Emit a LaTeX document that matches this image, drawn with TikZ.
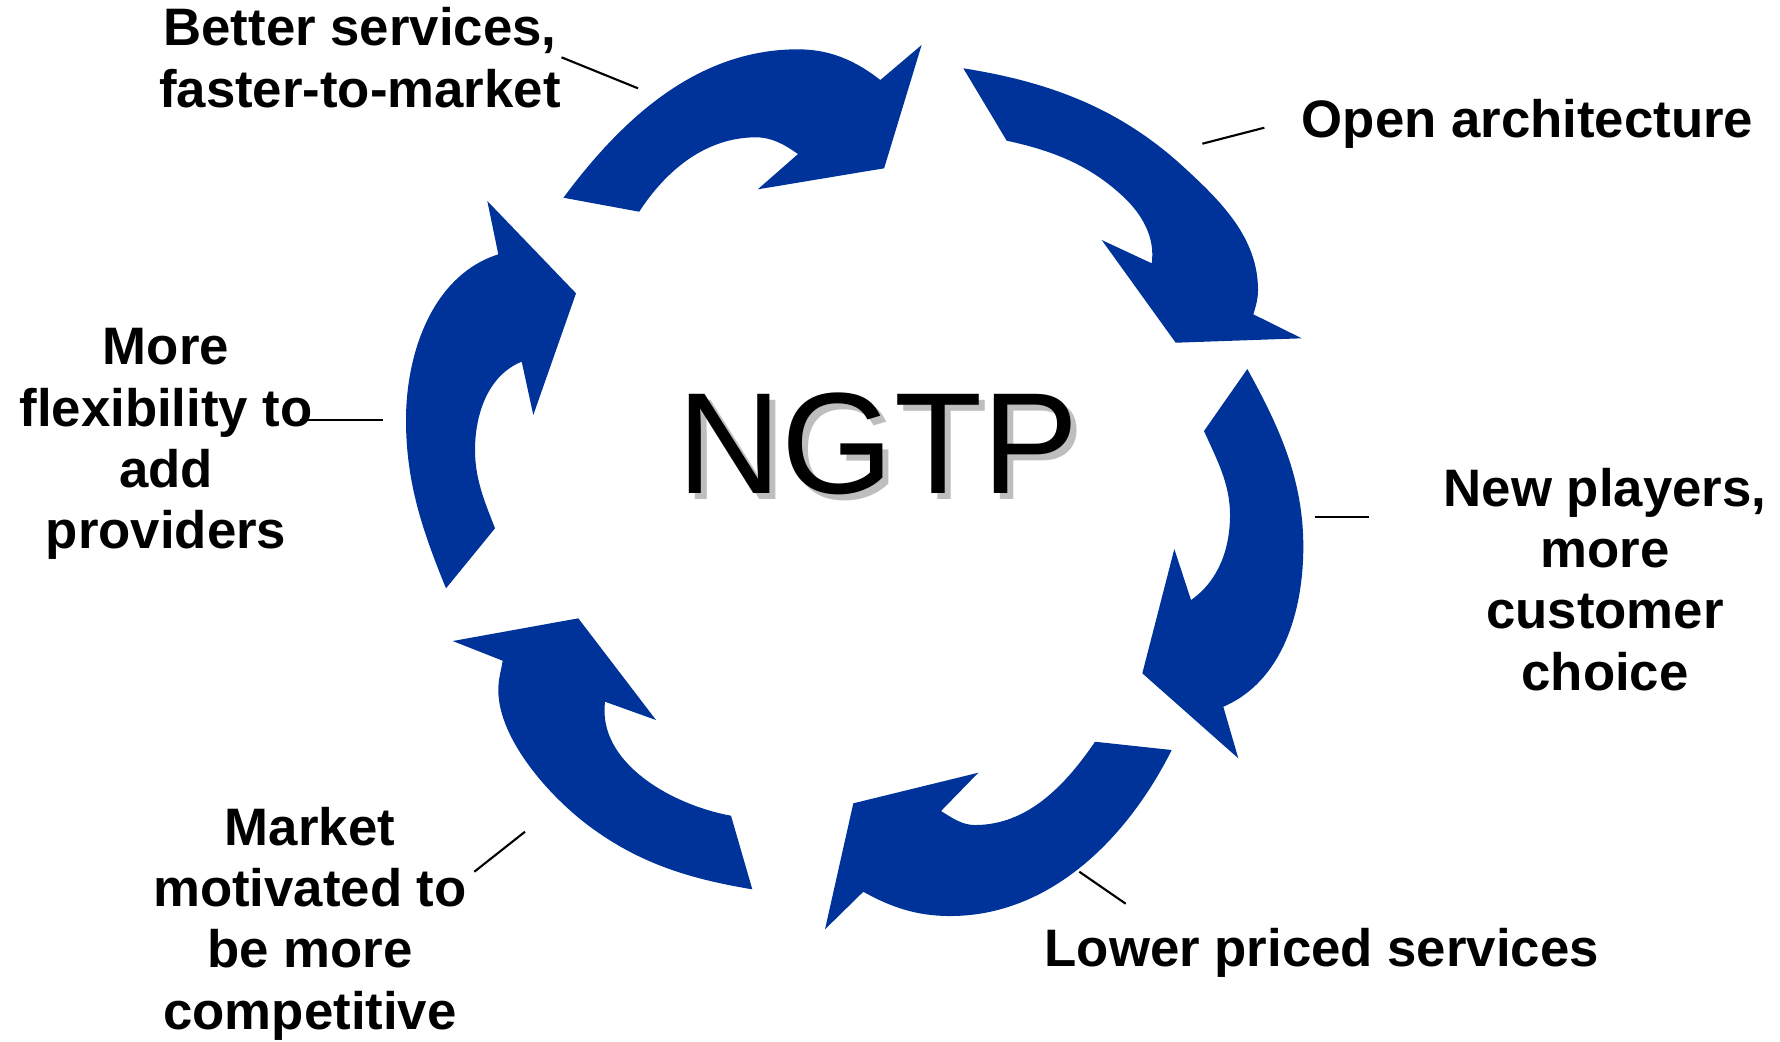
\documentclass[tikz,border=0pt]{standalone}
\usepackage{fontspec}
\setmainfont{Liberation Sans}
\definecolor{arrowblue}{RGB}{0,51,153}
\definecolor{shadowgray}{RGB}{190,190,190}
\begin{document}
\begin{tikzpicture}[x=0.01cm,y=-0.01cm,
  cyclearrow/.style={fill=arrowblue,draw=none},
  label/.style={font=\bfseries\fontsize{15}{17.4}\selectfont,align=center,inner sep=0pt,anchor=base},
  leader/.style={draw=black,line width=0.6pt},
  bigtitle/.style={font=\fontsize{41}{49}\selectfont,inner sep=0pt,anchor=base}]
\useasboundingbox (0,0) rectangle (1780,1041);

% Arrow 1 (top left)
\fill[cyclearrow] (563.4,197.7) .. controls (623,117.4) and (698,49.3) .. (798,49.3)
  .. controls (829.6,49.3) and (855.5,60.4) .. (880.3,80)
  -- (921.6,45) -- (884.1,168.3) -- (757.8,189.3) -- (798,154)
  .. controls (784.6,144.7) and (772.2,137.3) .. (755.9,137.3)
  .. controls (706.1,137.3) and (666.3,169.9) .. (639.2,211.7) -- cycle;

% Arrow 2 (top right)
\fill[cyclearrow] (963.3,68.3) .. controls (1049,81.8) and (1119.3,108) .. (1183.3,166.7)
  .. controls (1221.6,201.8) and (1258,238.1) .. (1258,290)
  .. controls (1258,298.9) and (1255.9,305.8) .. (1253.3,314.3)
  -- (1301.7,338.3) -- (1175.7,342.7) -- (1101.7,240) -- (1151.7,263.3)
  .. controls (1155.3,237.5) and (1142.3,214.5) .. (1123.3,196.7)
  .. controls (1089.3,164.8) and (1052.3,150.5) .. (1006.7,140.7) -- cycle;

% Arrow 3 (right)
\fill[cyclearrow] (1247.3,369) .. controls (1279.7,427.6) and (1303.3,479.7) .. (1303.3,546.7)
  .. controls (1303.3,611.1) and (1282.5,681.4) .. (1223.3,706.7)
  -- (1238.3,758.3) -- (1142.3,673.3) -- (1174.3,549) -- (1191,600)
  .. controls (1218.6,580.7) and (1230,548.7) .. (1230,515)
  .. controls (1230,483.4) and (1216.9,459.8) .. (1204,431) -- cycle;

% Arrow 4 (bottom right)
\fill[cyclearrow] (1171.7,750) .. controls (1127,839.1) and (1049.7,916) .. (950,916)
  .. controls (917.6,916) and (891.5,907.6) .. (863.3,891.7)
  -- (825,929.3) -- (853.3,803.3) -- (978.3,772.7) -- (941,811)
  .. controls (952.2,817.9) and (961.8,825) .. (975,825)
  .. controls (1027.6,825) and (1065.4,785.2) .. (1095,741.7) -- cycle;

% Arrow 5 (bottom left)
\fill[cyclearrow] (752.3,889.3) .. controls (690.6,879) and (640.3,863.9) .. (590,826.7)
  .. controls (550.3,797.4) and (498.3,739.4) .. (498.3,690)
  .. controls (498.3,679.3) and (500.9,671.2) .. (502.7,660.7)
  -- (452.7,641) -- (578.3,618.3) -- (656,720) -- (605,701.7)
  .. controls (597.4,762.4) and (670.8,804.6) .. (731,815.7) -- cycle;

% Arrow 6 (left)
\fill[cyclearrow] (446,588.3) .. controls (422.4,530.7) and (406,482.3) .. (406,420)
  .. controls (406,351.7) and (433.2,275) .. (498.3,254.3)
  -- (487.3,201) -- (576,293.3) -- (533.3,415) -- (521.7,361.7)
  .. controls (488.2,375) and (475,414) .. (475,450)
  .. controls (475,479.1) and (484.5,501.2) .. (495,528.3) -- cycle;

% Title with shadow
\node[bigtitle,text=shadowgray] (ngtpshadow) at (884,499.5) {NGTP};
\node[bigtitle,text=black] (ngtp) at (878,493.3) {NGTP};

% Labels (anchor = baseline of last line)
\node[label] (better) at (360,107) {Better services,\\faster-to-market};
\node[label,anchor=base west] (open) at (1301,137.3) {Open architecture};
\node[label] (newpl) at (1605,690) {New players,\\more\\customer\\choice};
\node[label,anchor=base west] (lower) at (1044,966.7) {Lower priced services};
\node[label] (market) at (310,1029) {Market\\motivated to\\be more\\competitive};
\node[label] (moreflex) at (166,548.4) {More\\flexibility to\\add\\providers};

% Leader lines
\coordinate (b1) at (561.5,57.3); \coordinate (b2) at (638,88.3);
\coordinate (o1) at (1202.3,143.7); \coordinate (o2) at (1264.3,127.7);
\coordinate (n1) at (1314.7,516.7); \coordinate (n2) at (1368.9,516.7);
\coordinate (l1) at (1079.3,871.7); \coordinate (l2) at (1125.7,903.7);
\coordinate (m1) at (525,831.7); \coordinate (m2) at (474.3,871.7);
\coordinate (f1) at (300,420); \coordinate (f2) at (383,420);
\draw[leader] (b1) -- (b2);
\draw[leader] (o1) -- (o2);
\draw[leader] (n1) -- (n2);
\draw[leader] (l1) -- (l2);
\draw[leader] (m1) -- (m2);
\draw[leader] (f1) -- (f2);
\end{tikzpicture}
\end{document}
